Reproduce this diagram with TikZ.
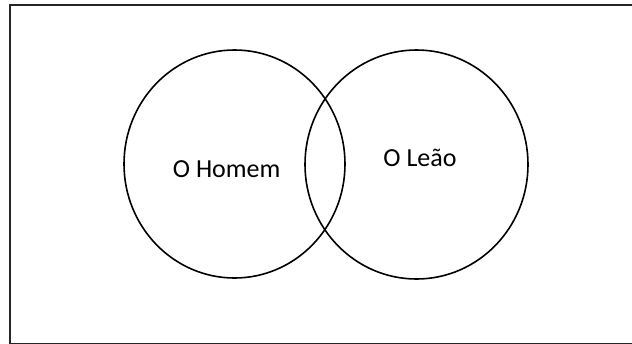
\documentclass[tikz,border=0pt]{standalone}
\usepackage{fontspec}
\setmainfont{Carlito}
\begin{document}
\begin{tikzpicture}[x=1pt,y=-1pt,
  ring/.style={draw=black,line width=1.6pt},
  lbl/.style={anchor=base,inner sep=0pt,font=\fontsize{26}{30}\selectfont}]
\useasboundingbox (0,0) rectangle (632,343);
\draw[line width=2pt,draw=black!85] (9.5,5) rectangle (660,344.4);
\draw[ring] (234.5,164) ellipse [x radius=110.5, y radius=114];
\draw[ring] (416.5,164.5) ellipse [x radius=111.5, y radius=114.5];
\node[lbl] (homem) at (226.7,177.7) {O Homem};
\node[lbl] (leao) at (420,166) {O Leão};
\end{tikzpicture}
\end{document}
